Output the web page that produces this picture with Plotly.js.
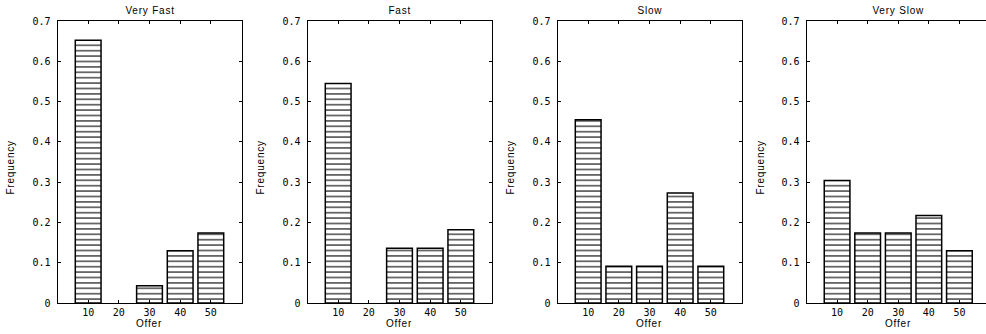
<!DOCTYPE html>
<html>
<head>
<meta charset="utf-8">
<script src="https://cdn.plot.ly/plotly-3.0.1.min.js"></script>
<style>
  html, body { margin: 0; padding: 0; overflow: hidden; background: #fff; }
  #chart { width: 990px; height: 334px; }
  #chart .annotation-text { letter-spacing: 0.8px; }
</style>
</head>
<body>
<div id="chart"></div>
<script>
// ---- data ----
const offers = [10, 20, 30, 40, 50];
const panelTitles = ["Very Fast", "Fast", "Slow", "Very Slow"];
const veryFast = [0.652, 0.0, 0.043, 0.130, 0.174];
const fast     = [0.545, 0.0, 0.136, 0.136, 0.182];
const slow     = [0.455, 0.091, 0.091, 0.273, 0.091];
const verySlow = [0.304, 0.174, 0.174, 0.217, 0.130];
const yTickVals = [0, 0.1, 0.2, 0.3, 0.4, 0.5, 0.6, 0.7];
const yTickText = ["0", "0.1", "0.2", "0.3", "0.4", "0.5", "0.6", "0.7"];
const xLabel = "Offer";
const yLabel = "Frequency";

const series = [veryFast, fast, slow, verySlow];

(function () {
  // ---- layout geometry (pixels) ----
  const W = 990, H = 334;
  const lefts = [57.5, 307.5, 557.5, 806.5];
  const plotW = 184;
  const plotTop = 21, plotBottom = 303;

  const traces = [];
  const layout = {
    width: W, height: H,
    margin: {l: 0, r: 0, t: 0, b: 0},
    paper_bgcolor: "white",
    plot_bgcolor: "white",
    showlegend: false,
    bargap: 0,
    annotations: []
  };

  const tickFont = {family: "DejaVu Sans Mono, Liberation Mono, monospace", size: 10, color: "black"};

  series.forEach((vals, i) => {
    const sfx = i === 0 ? "" : String(i + 1);
    traces.push({
      type: "bar",
      x: offers,
      y: vals,
      width: 8.4,
      xaxis: "x" + sfx,
      yaxis: "y" + sfx,
      marker: {
        color: "white",
        line: {color: "black", width: vals.map(v => (v > 0 ? 1.5 : 0))},
        pattern: {shape: "-", size: 5.4, solidity: 0.2, fgcolor: "black", bgcolor: "white", fillmode: "replace"}
      },
      hoverinfo: "x+y"
    });
    const xd = [lefts[i] / W, (lefts[i] + plotW) / W];
    const yd = [(H - plotBottom) / H, (H - plotTop) / H];
    layout["xaxis" + sfx] = {
      domain: xd, anchor: "y" + sfx,
      range: [0, 60],
      tickvals: offers, ticktext: offers.map(String),
      ticks: "inside", ticklen: 3, tickcolor: "black", tickwidth: 1,
      showline: true, linecolor: "black", linewidth: 1, mirror: "ticks",
      showgrid: false, zeroline: false,
      tickfont: tickFont,
      ticklabelstandoff: 0,
      fixedrange: true
    };
    layout["yaxis" + sfx] = {
      domain: yd, anchor: "x" + sfx,
      range: [0, 0.7],
      tickvals: yTickVals, ticktext: yTickText,
      ticks: "inside", ticklen: 3, tickcolor: "black", tickwidth: 1,
      showline: true, linecolor: "black", linewidth: 1, mirror: "ticks",
      showgrid: false, zeroline: false,
      tickfont: tickFont,
      ticklabelstandoff: 4,
      fixedrange: true
    };
    const cx = (lefts[i] + plotW / 2) / W;
    layout.annotations.push({
      text: panelTitles[i], xref: "paper", yref: "paper",
      x: cx, y: 1 - 10 / H, xanchor: "center", yanchor: "middle",
      showarrow: false,
      font: {family: "Liberation Sans, Arial, sans-serif", size: 10, color: "black"}
    });
    layout.annotations.push({
      text: xLabel, xref: "paper", yref: "paper",
      x: cx, y: 1 - 323 / H, xanchor: "center", yanchor: "middle",
      showarrow: false,
      font: {family: "Liberation Sans, Arial, sans-serif", size: 10, color: "black"}
    });
    layout.annotations.push({
      text: yLabel, xref: "paper", yref: "paper",
      x: (10 + 250 * i) / W, y: 1 - 168 / H, xanchor: "center", yanchor: "middle",
      textangle: -90, showarrow: false,
      font: {family: "Liberation Sans Narrow, Liberation Sans, Arial, sans-serif", size: 10, color: "black"}
    });
  });

  Plotly.newPlot("chart", traces, layout, {displayModeBar: false, staticPlot: true});
})();
</script>
</body>
</html>
